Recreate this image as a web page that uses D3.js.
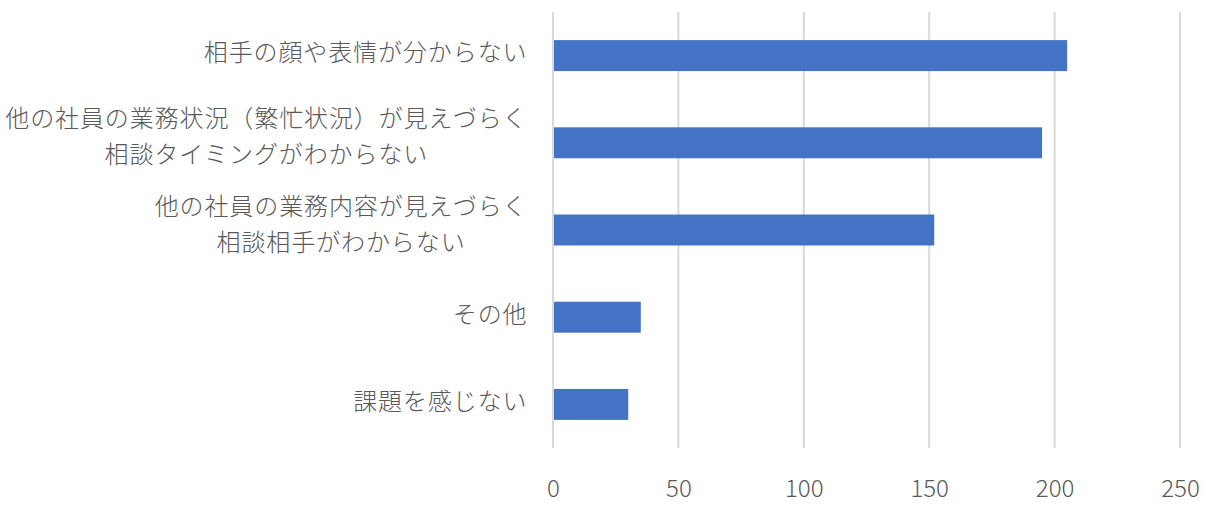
<!DOCTYPE html>
<html><head><meta charset="utf-8">
<script src="https://cdn.jsdelivr.net/npm/d3@7"></script>
<style>
html,body{margin:0;padding:0;background:#fff;}
svg text{font-family:"Noto Sans CJK JP","Noto Sans",sans-serif;fill:#595959;font-weight:300;}
</style></head>
<body><svg id="c" width="1213" height="511"></svg>
<script>
const categories = [
  ["相手の顔や表情が分からない"],
  ["他の社員の業務状況（繁忙状況）が見えづらく","相談タイミングがわからない"],
  ["他の社員の業務内容が見えづらく","相談相手がわからない"],
  ["その他"],
  ["課題を感じない"]
];
const values = [205, 195, 152, 35, 30];
const tickValues = [0, 50, 100, 150, 200, 250];

const svg = d3.select("#c");
const m = {left:553, right:1180, top:12, bottom:448};
const x = d3.scaleLinear().domain([0,250]).range([m.left, m.right]);
const y = d3.scaleBand().domain(d3.range(categories.length)).range([m.top, m.bottom])
  .paddingInner(0.645).paddingOuter(0.3225);

// gridlines
svg.append("g").selectAll("line").data(tickValues).join("line")
  .attr("x1", d=>x(d)).attr("x2", d=>x(d))
  .attr("y1", m.top).attr("y2", m.bottom)
  .attr("stroke", "#d9d9d9").attr("stroke-width", 2);

// bars
svg.append("g").selectAll("rect").data(values).join("rect")
  .attr("x", x(0)+1).attr("y", (d,i)=>y(i))
  .attr("width", d=>x(d)-x(0)-1).attr("height", y.bandwidth())
  .attr("fill", "#4472C4");

// x axis labels
const xAxis = d3.axisBottom(x).tickValues(tickValues).tickSize(0).tickPadding(0);
const gx = svg.append("g").attr("transform", `translate(0,${m.bottom})`).call(xAxis);
gx.select(".domain").remove();
gx.selectAll("text").attr("y", 49).attr("dy", 0)
  .style("font-size","24px").style("fill","#595959").style("font-weight","300")
  .style("font-family",'"Noto Sans CJK JP","Noto Sans",sans-serif');

// y labels
const fs = 24;
const labels = svg.append("g");
categories.forEach((lines, i) => {
  const cy = y(i) + y.bandwidth()/2;
  const g = labels.append("g");
  const t = g.append("text").attr("text-anchor","middle")
    .style("font-size", fs+"px").style("letter-spacing","0.9px");
  if (lines.length === 1) {
    t.append("tspan").attr("x",0).attr("y", cy - 3 + fs*0.36).text(lines[0]);
  } else {
    t.append("tspan").attr("x",0).attr("y", cy - 24 + fs*0.36).text(lines[0]);
    t.append("tspan").attr("x",0).attr("y", cy + 12 + fs*0.36).text(lines[1]);
  }
  const bb = t.node().getBBox();
  const right = 527;
  g.attr("transform", `translate(${right - bb.width/2 + 0.45},0)`);
});
</script></body></html>
